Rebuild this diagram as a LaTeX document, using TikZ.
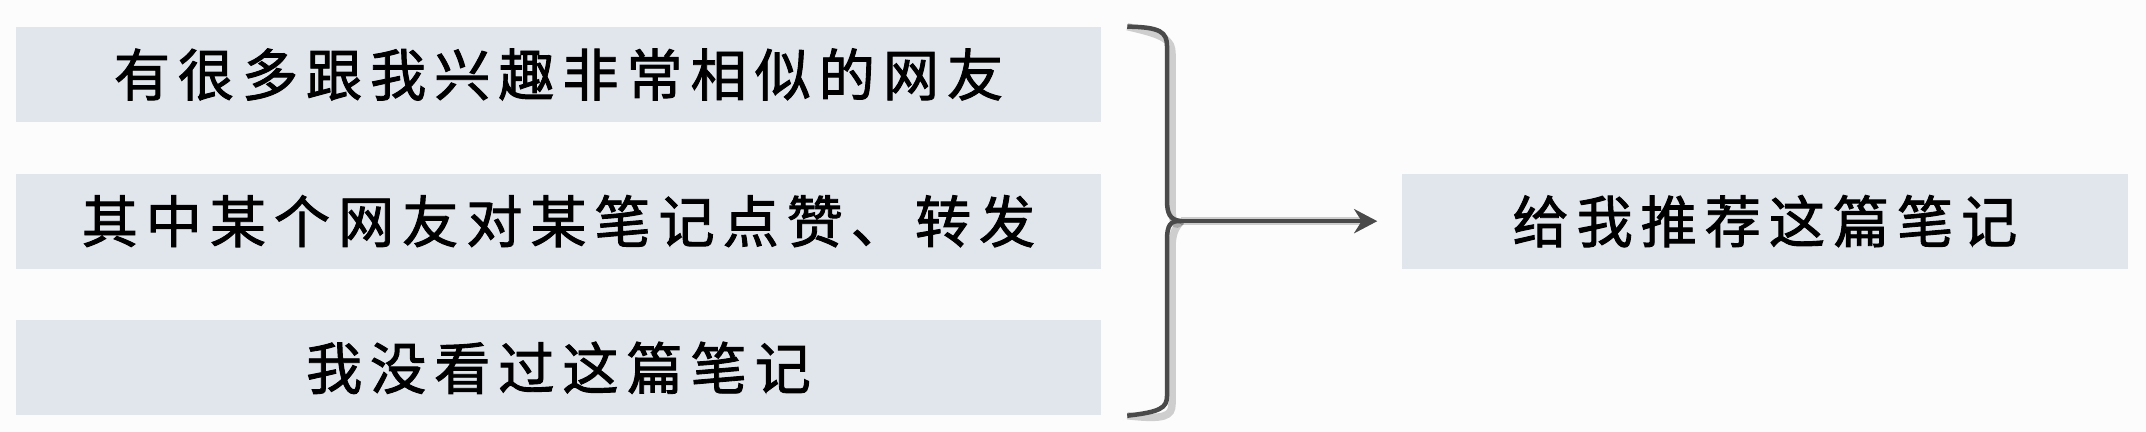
\documentclass[tikz,border=0pt]{standalone}
\usepackage{fontspec}
\newfontfamily\cjk[LetterSpace=14, FakeBold=1.6]{Noto Sans CJK SC}
\usetikzlibrary{positioning,arrows.meta,calc}

\definecolor{boxgray}{HTML}{E1E5EC}
\definecolor{linegray}{HTML}{4A4A4A}
\definecolor{paper}{HTML}{FDFCFD}

\tikzset{
  fact/.style={fill=boxgray, minimum width=21.7cm, minimum height=1.9cm,
    inner sep=0pt, font=\cjk\fontsize{32}{40}\selectfont},
  result/.style={fact, minimum width=14.54cm},
  brace/.style={draw=linegray, line width=0.09cm},
  braceshadow/.style={draw=black, line width=0.15cm, opacity=0.18}
}

\begin{document}
\begin{tikzpicture}[x=0.02cm, y=-0.02cm, node distance=1.02cm and 6cm]

    \fill[paper] (0,0) rectangle (2146,432);
    \useasboundingbox (0,0) rectangle (2146,432);

    % Define nodes
    \node[fact]                   (like)   at (558.5,74.5) {有很多跟我兴趣非常相似的网友};
    \node[fact, below=of like]    (share)  {其中某个网友对某笔记点赞、转发};
    \node[fact, below=of share]   (unseen) {我没看过这篇笔记};
    \node[result, right=of share] (rec)    {给我推荐这篇笔记};

    % Brace points
    \coordinate (btop) at ($(like.north east)+(26,0)$);
    \coordinate (bbot) at ($(unseen.south east)+(26,0)$);
    \coordinate (bmid) at ($(share.east)+(80,0)$);

    % Shadows
    \begin{scope}[shift={(5,8)}]
      \draw[braceshadow] (btop) .. controls (1160,27) and (1167,32) .. (1167,46)
        -- (1167,200) .. controls (1167,214) and (1170,220) .. (bmid);
      \draw[braceshadow] (bmid) .. controls (1170,220) and (1167,226) .. (1167,240)
        -- (1167,396) .. controls (1167,408) and (1160,412) .. (bbot);
      \draw[braceshadow, -{Stealth[length=0.46cm, width=0.48cm]}, shorten >=0.48cm]
        (bmid) -- (rec.west);
    \end{scope}

    % Connect the nodes
    \draw[brace] (btop) .. controls (1160,27) and (1167,32) .. (1167,46)
      -- (1167,200) .. controls (1167,214) and (1170,220) .. (bmid);
    \draw[brace] (bmid) .. controls (1170,220) and (1167,226) .. (1167,240)
      -- (1167,396) .. controls (1167,408) and (1160,412) .. (bbot);
    \draw[brace, -{Stealth[length=0.46cm, width=0.48cm]}, shorten >=0.48cm]
      (bmid) -- (rec.west);

\end{tikzpicture}
\end{document}
